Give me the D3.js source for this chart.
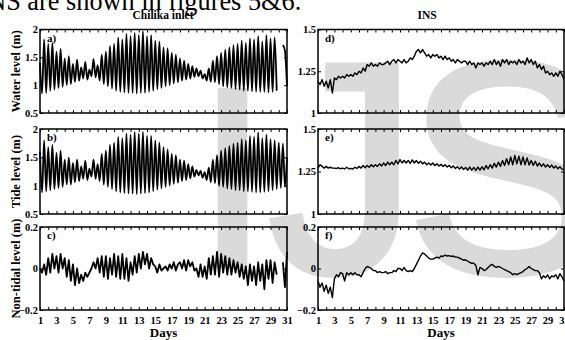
<!DOCTYPE html>
<html>
<head>
<meta charset="utf-8">
<script src="https://cdn.jsdelivr.net/npm/d3@7"></script>
<style>
  html, body { margin: 0; padding: 0; background: #fff; }
  svg { display: block; }
</style>
</head>
<body>
<div id="chart"></div>
<script>
// samples every 6 h, day 1 to day 31
const sampleStep = 0.25;
const dayTicks = [1, 3, 5, 7, 9, 11, 13, 15, 17, 19, 21, 23, 25, 27, 29, 31];

// a) Chilika inlet water level (m)
const chilikaWater = [
  1.40, 0.85, 1.82, 0.86,  1.74, 0.90, 1.76, 0.92,  1.60, 0.95, 1.65, 0.97,
  1.48, 1.00, 1.52, 1.02,  1.38, 1.06, 1.46, 1.08,  1.32, 1.12, 1.42, 1.10,
  1.28, 1.16, 1.47, 1.14,  1.36, 1.08, 1.55, 1.02,  1.60, 0.98, 1.70, 0.94,
  1.74, 0.90, 1.86, 0.88,  1.82, 0.87, 1.92, 0.86,  1.88, 0.86, 1.94, 0.85,
  1.90, 0.86, 1.97, 0.86,  1.88, 0.88, 1.90, 0.90,  1.80, 0.93, 1.78, 0.95,
  1.68, 0.98, 1.66, 1.00,  1.58, 1.03, 1.55, 1.05,  1.48, 1.08, 1.44, 1.10,
  1.38, 1.12, 1.34, 1.15,  1.30, 1.16, 1.26, 1.12,  1.20, 1.08, 1.30, 1.06,
  1.44, 1.05, 1.52, 1.02,  1.58, 0.98, 1.64, 0.96,  1.68, 0.95, 1.72, 0.93,
  1.74, 0.92, 1.80, 0.90,  1.76, 0.90, 1.84, 0.89,  1.82, 0.88, 1.88, 0.88,
  1.78, 0.88, 1.90, 0.87,  1.84, 0.88, 1.86, 0.90,  null, null, 1.72, 1.62,
  0.98
];

// b) Chilika inlet tide level (m)
const chilikaTide = [
  1.60, 0.88, 1.80, 0.90,  1.68, 0.92, 1.72, 0.94,  1.58, 0.96, 1.62, 0.98,
  1.46, 1.02, 1.50, 1.02,  1.40, 1.06, 1.46, 1.08,  1.34, 1.12, 1.44, 1.10,
  1.30, 1.16, 1.46, 1.12,  1.38, 1.08, 1.56, 1.02,  1.62, 0.98, 1.72, 0.94,
  1.76, 0.90, 1.86, 0.88,  1.84, 0.87, 1.92, 0.86,  1.90, 0.86, 1.95, 0.85,
  1.92, 0.86, 1.95, 0.87,  1.88, 0.88, 1.88, 0.90,  1.80, 0.93, 1.76, 0.95,
  1.68, 0.98, 1.64, 1.00,  1.56, 1.03, 1.54, 1.05,  1.46, 1.08, 1.44, 1.10,
  1.38, 1.13, 1.34, 1.16,  1.28, 1.18, 1.26, 1.14,  1.24, 1.10, 1.32, 1.06,
  1.46, 1.04, 1.54, 1.00,  1.62, 0.98, 1.66, 0.95,  1.70, 0.94, 1.74, 0.92,
  1.76, 0.92, 1.82, 0.90,  1.80, 0.90, 1.88, 0.89,  1.86, 0.88, 1.94, 0.88,
  1.84, 0.89, 1.90, 0.90,  1.82, 0.92, 1.80, 0.94,  1.76, 0.96, 1.74, 0.98,
  1.50
];

// c) Chilika inlet non-tidal level (m)
const chilikaResidual = [
  0.00, -0.02, 0.02, -0.03,  0.05, -0.02, 0.07, 0.00,  0.06, -0.02, 0.07, 0.00,
  0.05, -0.04, 0.04, -0.06,  0.02, -0.08, 0.00, -0.07,  -0.03, -0.06, -0.02, -0.04,
  -0.02, 0.00, 0.03, 0.00,  0.05, -0.02, 0.06, -0.04,  0.06, -0.05, 0.05, -0.03,
  0.07, -0.04, 0.06, -0.05,  0.07, -0.05, 0.05, -0.06,  0.03, -0.03, 0.06, -0.02,
  0.07, 0.00, 0.08, 0.02,  0.07, 0.00, 0.05, 0.02,  0.01, -0.02, 0.02, -0.01,
  0.00, 0.01, -0.01, 0.02,  0.00, 0.03, -0.01, 0.02,  0.03, 0.00, 0.04, -0.01,
  0.04, 0.01, 0.03, -0.01,  0.00, -0.04, 0.02, -0.04,  0.01, -0.05, 0.05, -0.03,
  0.06, -0.03, 0.08, -0.04,  0.07, -0.02, 0.06, -0.03,  0.05, -0.03, 0.04, -0.02,
  0.03, -0.04, 0.02, -0.05,  0.01, -0.08, 0.02, -0.06,  0.01, -0.08, 0.03, -0.06,
  0.02, -0.10, 0.04, -0.05,  0.04, -0.07, 0.03, -0.03,  null, null, 0.03, -0.09,
  0.08
];

// d) INS water level (m)
const insWater = [
  1.19, 1.17, 1.20, 1.16,  1.19, 1.15, 1.20, 1.12,  1.21, 1.20, 1.22, 1.21,
  1.22, 1.21, 1.23, 1.22,  1.23, 1.22, 1.24, 1.23,  1.25, 1.24, 1.27, 1.25,
  1.29, 1.28, 1.30, 1.28,  1.29, 1.28, 1.30, 1.29,  1.29, 1.30, 1.31, 1.29,
  1.31, 1.32, 1.30, 1.32,  1.31, 1.30, 1.32, 1.30,  1.31, 1.33, 1.32, 1.34,
  1.37, 1.38, 1.36, 1.38,  1.36, 1.34, 1.35, 1.33,  1.35, 1.34, 1.35, 1.33,
  1.34, 1.32, 1.34, 1.32,  1.33, 1.31, 1.32, 1.30,  1.32, 1.31, 1.30, 1.31,
  1.31, 1.29, 1.31, 1.29,  1.30, 1.27, 1.30, 1.29,  1.30, 1.28, 1.30, 1.29,
  1.31, 1.29, 1.32, 1.29,  1.31, 1.28, 1.32, 1.30,  1.32, 1.29, 1.31, 1.30,
  1.31, 1.29, 1.32, 1.30,  1.31, 1.29, 1.33, 1.30,  1.32, 1.29, 1.31, 1.27,
  1.29, 1.26, 1.28, 1.24,  1.25, 1.23, 1.24, 1.22,  1.24, 1.22, 1.25, 1.23,
  1.20
];

// e) INS tide level (m)
const insTide = [
  1.27, 1.29, 1.28, 1.27,  1.28, 1.27, 1.275, 1.27,  1.27, 1.268, 1.272, 1.266,
  1.27, 1.265, 1.275, 1.266,  1.268, 1.265, 1.275, 1.268,  1.28, 1.27, 1.285, 1.272,
  1.285, 1.275, 1.29, 1.278,  1.29, 1.28, 1.295, 1.282,  1.30, 1.285, 1.305, 1.29,
  1.305, 1.29, 1.315, 1.295,  1.32, 1.30, 1.315, 1.30,  1.315, 1.298, 1.318, 1.30,
  1.315, 1.298, 1.31, 1.295,  1.305, 1.29, 1.30, 1.288,  1.30, 1.285, 1.295, 1.282,
  1.292, 1.28, 1.29, 1.276,  1.286, 1.272, 1.283, 1.268,  1.278, 1.264, 1.276, 1.262,
  1.274, 1.258, 1.276, 1.258,  1.274, 1.256, 1.276, 1.258,  1.278, 1.26, 1.285, 1.266,
  1.29, 1.27, 1.298, 1.276,  1.305, 1.28, 1.315, 1.285,  1.325, 1.29, 1.335, 1.29,
  1.345, 1.295, 1.34, 1.29,  1.335, 1.29, 1.33, 1.288,  1.315, 1.286, 1.31, 1.282,
  1.30, 1.28, 1.295, 1.276,  1.29, 1.274, 1.288, 1.27,  1.282, 1.266, 1.278, 1.264,
  1.262
];

// f) INS non-tidal level (m)
const insResidual = [
  -0.06, -0.09, -0.07, -0.11,  -0.08, -0.12, -0.09, -0.14,  -0.05, -0.03, -0.04, -0.02,
  -0.025, -0.06, -0.02, -0.03,  -0.02, -0.03, -0.02, -0.03,  -0.03, -0.04, -0.02, 0.00,
  0.01, 0.005, 0.00, -0.01,  -0.01, -0.02, -0.015, -0.02,  -0.02, -0.015, -0.025, -0.02,
  -0.02, -0.01, -0.015, 0.00,  0.00, -0.01, 0.005, -0.01,  -0.015, -0.01, -0.015, 0.00,
  0.02, 0.04, 0.06, 0.075,  0.07, 0.06, 0.05, 0.045,  0.045, 0.05, 0.055, 0.05,
  0.06, 0.058, 0.065, 0.06,  0.062, 0.058, 0.06, 0.055,  0.055, 0.05, 0.045, 0.04,
  0.042, 0.035, 0.03, 0.025,  0.025, 0.015, -0.03, 0.005,  0.00, -0.01, -0.005, 0.005,
  0.015, 0.02, 0.01, 0.005,  0.01, 0.005, 0.00, -0.005,  -0.01, -0.015, -0.02, -0.03,
  -0.025, -0.03, -0.025, -0.02,  -0.015, -0.005, 0.00, 0.01,  0.00, -0.005, -0.01, -0.01,
  -0.02, -0.05, -0.035, -0.045,  -0.03, -0.05, -0.035, -0.04,  -0.03, -0.05, -0.025, -0.04,
  -0.06
];

const chilikaTicks = [0.5, 1, 1.5, 2];
const insTicks = [1, 1.25, 1.5];
const residualTicks = [-0.2, 0, 0.2];

const W = 565, H = 340;
const cols = [{ x0: 40, x1: 287 }, { x0: 318, x1: 564 }];
const rows = [{ y0: 29.5, y1: 113 }, { y0: 129, y1: 214 }, { y0: 227, y1: 310 }];
const serif = "'Liberation Serif', 'Times New Roman', serif";

const panels = [
  { tag: 'a)', col: 0, row: 0, values: chilikaWater, ticks: chilikaTicks, label: 'Water level (m)' },
  { tag: 'b)', col: 0, row: 1, values: chilikaTide, ticks: chilikaTicks, label: 'Tide level (m)' },
  { tag: 'c)', col: 0, row: 2, values: chilikaResidual, ticks: residualTicks, label: 'Non-tidal level (m)' },
  { tag: 'd)', col: 1, row: 0, values: insWater, ticks: insTicks },
  { tag: 'e)', col: 1, row: 1, values: insTide, ticks: insTicks },
  { tag: 'f)', col: 1, row: 2, values: insResidual, ticks: residualTicks }
];

const svg = d3.select('#chart').append('svg')
  .attr('width', W)
  .attr('height', H);

svg.append('rect').attr('width', W).attr('height', H).attr('fill', '#fff');

// page text above the figure, cut by the crop
svg.append('text')
  .attr('x', -21.6)
  .attr('y', 10)
  .style('font-family', serif)
  .style('font-size', '26.3px')
  .text('INS are shown in figures 5&6.');

// journal watermark behind the plots
const mark = svg.append('g')
  .attr('fill', '#dadada')
  .attr('stroke', '#dadada')
  .attr('stroke-width', 6)
  .style('font-family', "'Liberation Sans', Arial, sans-serif");
mark.append('text').attr('x', 232.5).attr('y', 265).attr('text-anchor', 'middle')
  .style('font-size', '252px').text('I');
mark.append('text').attr('x', 268).attr('y', 272)
  .style('font-size', '300px').text('J');
mark.append('text').attr('x', 406).attr('y', 272)
  .style('font-size', '300px').text('S');

panels.forEach(p => {
  const c = cols[p.col], r = rows[p.row];
  const x = d3.scaleLinear().domain([1, 31]).range([c.x0, c.x1]);
  const y = d3.scaleLinear().domain(d3.extent(p.ticks)).range([r.y1, r.y0]);
  const g = svg.append('g');

  const series = p.values.map((v, i) => ({ day: 1 + i * sampleStep, v }));
  const line = d3.line()
    .defined(d => d.v != null)
    .x(d => x(d.day))
    .y(d => y(d.v))
    .curve(p.row === 2 || p.col === 1 ? d3.curveLinear : d3.curveMonotoneX);

  g.append('path')
    .datum(series)
    .attr('fill', 'none')
    .attr('stroke', '#000')
    .attr('stroke-width', p.col === 0 ? 1.8 : 1.4)
    .attr('stroke-linejoin', 'round')
    .attr('d', line);

  // inward ticks on every side
  const days = d3.range(1, 32);
  const tk = 3;
  g.append('g')
    .attr('transform', `translate(0,${r.y1})`)
    .call(d3.axisBottom(x).tickValues(days).tickSizeInner(-tk).tickSizeOuter(0).tickFormat(''))
    .call(a => a.select('.domain').remove());
  g.append('g')
    .attr('transform', `translate(0,${r.y0})`)
    .call(d3.axisTop(x).tickValues(days).tickSizeInner(-tk).tickSizeOuter(0).tickFormat(''))
    .call(a => a.select('.domain').remove());
  g.append('g')
    .attr('transform', `translate(${c.x1},0)`)
    .call(d3.axisRight(y).tickValues(p.ticks).tickSizeInner(-tk).tickSizeOuter(0).tickFormat(''))
    .call(a => a.select('.domain').remove());

  const yAxis = g.append('g')
    .attr('transform', `translate(${c.x0},0)`)
    .call(d3.axisLeft(y).tickValues(p.ticks).tickSizeInner(-tk).tickSizeOuter(0).tickPadding(2).tickFormat(d3.format('')));
  yAxis.select('.domain').remove();
  yAxis.selectAll('text')
    .style('font-family', serif)
    .style('font-weight', 'bold')
    .style('font-size', '10.5px')
    .attr('fill', '#000');
  g.selectAll('.tick line').attr('stroke', '#000').attr('stroke-width', 1);

  if (p.row === 2) {
    const xAxis = g.append('g')
      .attr('transform', `translate(0,${r.y1})`)
      .call(d3.axisBottom(x).tickValues(dayTicks).tickSize(0).tickPadding(7).tickFormat(d3.format('d')));
    xAxis.select('.domain').remove();
    xAxis.selectAll('text')
      .style('font-family', serif)
      .style('font-weight', 'bold')
      .style('font-size', '10.5px')
      .attr('fill', '#000');

    g.append('text')
      .attr('x', (c.x0 + c.x1) / 2)
      .attr('y', 337)
      .attr('text-anchor', 'middle')
      .style('font-family', serif)
      .style('font-weight', 'bold')
      .style('font-size', '13px')
      .text('Days');
  }

  g.append('rect')
    .attr('x', c.x0).attr('y', r.y0)
    .attr('width', c.x1 - c.x0).attr('height', r.y1 - r.y0)
    .attr('fill', 'none')
    .attr('stroke', '#000')
    .attr('stroke-width', 1.5);

  g.append('text')
    .attr('x', c.x0 + 7)
    .attr('y', r.y0 + 12)
    .style('font-family', serif)
    .style('font-weight', 'bold')
    .style('font-size', '11px')
    .text(p.tag);

  if (p.label) {
    g.append('text')
      .attr('transform', `translate(20,${(r.y0 + r.y1) / 2}) rotate(-90)`)
      .attr('text-anchor', 'middle')
      .style('font-family', serif)
      .style('font-weight', 'bold')
      .style('font-size', '12.5px')
      .text(p.label);
  }
});

svg.append('text')
  .attr('x', 163).attr('y', 19)
  .attr('text-anchor', 'middle')
  .style('font-family', serif)
  .style('font-weight', 'bold')
  .style('font-size', '11.5px')
  .text('Chilika inlet');

svg.append('text')
  .attr('x', 427).attr('y', 19)
  .attr('text-anchor', 'middle')
  .style('font-family', serif)
  .style('font-weight', 'bold')
  .style('font-size', '11.5px')
  .text('INS');
</script>
</body>
</html>
